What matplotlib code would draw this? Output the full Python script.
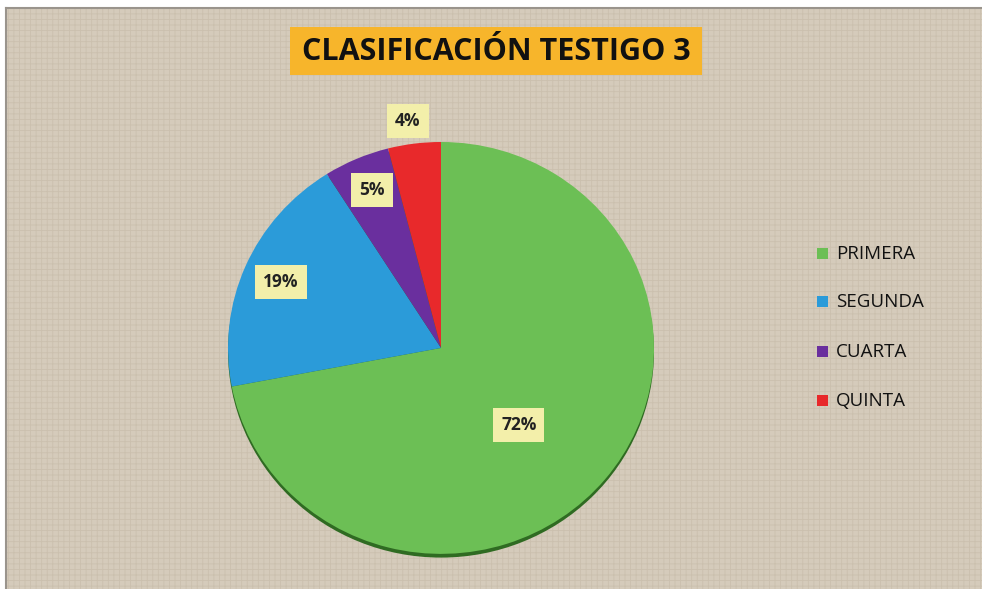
import matplotlib.pyplot as plt
from matplotlib.patches import Rectangle, Ellipse

# Data
categories = ['PRIMERA', 'SEGUNDA', 'CUARTA', 'QUINTA']
percentages = [72, 19, 5, 4]
labels = ['72%', '19%', '5%', '4%']
colors = ['#6cbf55', '#2b9bd9', '#6a2f9e', '#e8292b']

W, H = 982, 589
plt.rcParams['hatch.linewidth'] = 0.6

fig = plt.figure(figsize=(W / 100, H / 100), dpi=100)
fig.patch.set_facecolor('white')

# Background panel (linen look)
bg = fig.add_axes([0, 0, 1, 1])
bg.set_xlim(0, W)
bg.set_ylim(H, 0)
bg.axis('off')
bg.add_patch(Rectangle((6, 8), W - 6, H - 8, facecolor='#d5cbbb', edgecolor='none'))
bg.add_patch(Rectangle((6, 8), W - 6, H - 8, facecolor='none', edgecolor='#cbc0ae',
                       hatch='+++', linewidth=0))
bg.plot([6, 6], [8, H], color='#9a948c', lw=1.5)
bg.plot([6, W], [8, 8], color='#9a948c', lw=1.5)

# Title box
bg.add_patch(Rectangle((290, 27), 412, 48, facecolor='#f7b52b', edgecolor='none'))
bg.text(496, 52, 'CLASIFICACIÓN TESTIGO 3', ha='center', va='center',
        fontsize=22, fontweight='bold', family='Open Sans', color='#111111')

# Pie axes (slightly flattened ellipse)
cx, cy, rx, ry = 441, 350, 213, 208
ax = fig.add_axes([(cx - rx) / W, 1 - (cy + ry) / H, 2 * rx / W, 2 * ry / H])

# thin darker edge at the bottom for the 3D look
ax.add_patch(Ellipse((0, -0.018), 2.0, 2.0, facecolor='#2f6b22', edgecolor='none', zorder=0))

wedges, _ = ax.pie(percentages, colors=colors, startangle=90, counterclock=False,
                   radius=1, wedgeprops=dict(linewidth=0))
ax.set_aspect('auto')
ax.set_xlim(-1, 1)
ax.set_ylim(-1.02, 1)
ax.axis('off')

# Overlay for labels and legend
top = fig.add_axes([0, 0, 1, 1])
top.set_xlim(0, W)
top.set_ylim(H, 0)
top.axis('off')

# Data labels
label_pos = [(519, 425), (281, 282), (372, 190), (408, 121)]
for lab, (px, py) in zip(labels, label_pos):
    top.text(px, py, lab, ha='center', va='center', fontsize=12.5, fontweight='bold',
             family='Open Sans', color='#222222',
             bbox=dict(boxstyle='square,pad=0.45', facecolor='#f3efaa', edgecolor='none'))

# Legend
legend_y = [254, 302, 352, 401]
for name, col, ly in zip(categories, colors, legend_y):
    top.add_patch(Rectangle((817, ly - 6), 11, 11, facecolor=col, edgecolor='none'))
    top.text(836, ly, name, ha='left', va='center', fontsize=13.5,
             family='Open Sans', color='#111111')

fig.savefig('out.png', dpi=100, facecolor=fig.get_facecolor())
